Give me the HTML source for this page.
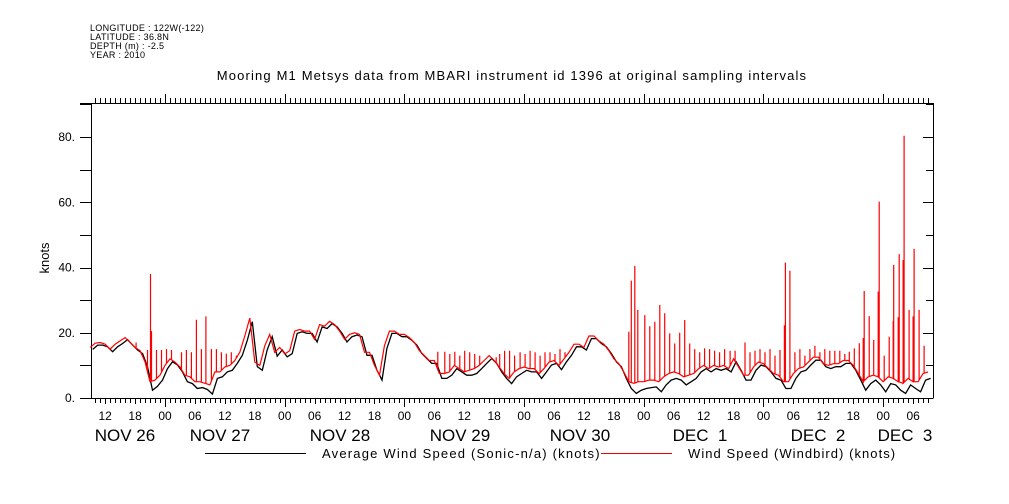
<!DOCTYPE html>
<html><head><meta charset="utf-8"><style>
html,body{margin:0;padding:0;background:#fff;}
svg{display:block;font-family:"Liberation Sans",sans-serif;}
</style></head><body>
<svg id="chart" width="1009" height="504" viewBox="0 0 1009 504" xmlns="http://www.w3.org/2000/svg">
<g font-size="9" fill="#000" letter-spacing="0.3">
<text x="90" y="31">LONGITUDE : 122W(-122)</text>
<text x="90" y="40">LATITUDE : 36.8N</text>
<text x="90" y="49">DEPTH (m) : -2.5</text>
<text x="90" y="58">YEAR : 2010</text>
</g>
<text x="512" y="80" font-size="13" letter-spacing="1.15" text-anchor="middle">Mooring M1 Metsys data from MBARI instrument id 1396 at original sampling intervals</text>
<text x="0" y="0" font-size="13" text-anchor="middle" transform="translate(49,258) rotate(-90)">knots</text>
<g id="axes" stroke="#000" stroke-width="1" fill="none"></g>
<g id="ticklabels" fill="#000"></g>
<g id="series" fill="none"></g>
<g>
<line x1="205" y1="453.5" x2="306" y2="453.5" stroke="#000" stroke-width="1"/>
<text x="322" y="458" font-size="13" letter-spacing="1.2">Average Wind Speed (Sonic-n/a) (knots)</text>
<line x1="601" y1="453.5" x2="672" y2="453.5" stroke="#e00" stroke-width="1"/>
<text x="688" y="458" font-size="13" letter-spacing="1.05">Wind Speed (Windbird) (knots)</text>
</g>
</svg>
<script>
// hours since Nov 26 00:00, starting at hour 9
const startHour = 9;
const avgSpeed = [
14.9,16.2,16.2,15.7,14.2,15.7,16.7,17.9,16.2,14.7,13.6,
9.6,2.4,3.6,5.5,9.0,11.1,10.1,8.0,5.0,4.4,
2.9,3.2,2.6,1.2,6.0,6.5,8.0,8.5,10.6,13.1,
17.7,23.4,9.6,8.5,14.7,18.8,12.8,14.7,12.6,13.6,
19.8,20.3,19.8,19.8,17.2,21.8,21.3,22.8,21.8,19.8,
17.2,18.8,19.3,18.8,13.1,13.1,8.5,5.5,15.2,19.8,
19.8,18.8,18.8,17.7,16.2,13.6,12.1,10.6,10.6,6.0,
6.0,7.0,9.0,8.0,7.0,7.0,7.5,9.0,10.6,12.1,
10.6,8.0,6.0,4.4,6.5,7.5,8.5,8.0,8.0,6.0,
8.0,10.1,10.6,8.7,11.1,13.1,15.7,15.7,14.7,18.2,
18.2,16.7,15.7,13.6,11.1,9.6,6.0,2.9,1.4,2.4,
2.9,3.2,3.4,1.9,4.0,5.5,6.0,5.5,4.0,5.0,
6.0,8.0,9.0,8.0,9.0,8.5,9.0,8.0,11.1,8.5,
5.5,5.5,8.5,10.1,9.6,8.0,6.0,5.5,2.9,2.9,
6.0,8.0,8.5,10.1,11.6,11.6,9.6,9.0,9.6,9.6,
10.6,10.6,8.5,5.5,2.4,4.4,5.5,4.0,1.9,4.4,
4.0,2.4,1.4,4.0,2.9,1.9,5.5,6.0
];
const windbirdBase = [
15.5,16.8,17,16.5,15,16.5,17.5,18.5,17,15.5,14.5,
11,5,5.5,7,10,12,11,9.5,7,6.5,
5,5,4.5,4,8,8,9.5,10,11.5,14,
19,24.5,11,10,16,19.5,14,15.5,13.5,14.5,
20.5,21,20.5,20.5,18,22.5,22,23.5,22.5,20.5,
18,19.5,20,19.5,14,14,10,7,16,20.5,
20.5,19.5,19.5,18.5,17,14.5,13,11.5,11.5,7.5,
7.5,8,10,9,8,8.5,9,10,11.5,13,
11.5,9.5,7.5,6,8,9,9.5,9,9,7.5,
9,11,11.5,10,12,14,16.5,16.5,15.5,19,
19,17.5,16.5,14.5,12,10.5,8,5,4.5,5,
5,5.5,5.5,5,6.5,7.5,8,7.5,6.5,7,
7.5,9,10,9,10,9.5,10,9,12,9.5,
7,7,9.5,11,10.5,9,7.5,7,5,5,
7.5,9,9.5,11,12.5,12.5,10.5,10,10.5,10.5,
11.5,11.5,10,7.5,5,6.5,7,6.5,5,6.5,
6,5,4.5,6,5,5,7.5,8
];
const spikeHours = [18.2,20.5,21.1,21.3,22.3,23.3,24.3,25.3,27.3,28.3,29.3,30.3,31.3,32.2,33.3,34.3,35.3,36.3,37.3,38.3,
78.7,80.1,81.1,82.1,83.1,84.1,85.1,86.1,87.1,90.4,91.1,92.1,93.1,94.1,95.2,96.2,97.2,98.2,99.2,100.2,101.2,102.2,103.2,104.2,
117.0,117.5,118.2,118.8,120.2,121.2,122.2,123.2,124.2,125.2,126.2,127.2,128.2,129.2,130.2,131.2,132.2,133.2,134.2,135.2,136.2,
137.3,138.3,140.3,141.3,142.3,143.3,144.3,145.3,146.3,147.3,148.2,148.4,149.3,150.3,151.3,152.3,153.3,154.3,155.3,156.3,157.3,158.3,159.3,160.3,161.2,162.2,
163.2,164.0,164.2,165.2,166.1,167.0,167.2,168.2,169.2,170.0,170.1,171.0,171.2,172.0,172.2,173.2,174.0,174.2,175.2,176.2];
const spikeValues = [17,14.7,38,20.5,14.7,14.7,15,14.7,14,14.7,14,24,15,25,15,15,14,13.6,14,13,
14.2,14.2,13.5,14.2,13,14.5,14,13.5,13,12.5,13.5,14.5,14.5,13,14,13.5,14.5,14,13,14,14,13.5,15,14,
20.3,36,40.5,27,25.4,22,23.4,28.5,26,19.8,16.7,20,23.9,16.7,15,14,15.2,15,14.5,14,15,
14.5,14.5,17,14,14.5,15,14,15,13,14.7,22.3,41.5,39,14,15,13,15,16,14,15,14.5,14.5,14.5,13.5,14.2,15.2,
16.8,18.4,32.8,25.1,17.8,32.6,60.2,13,18.8,23.5,40.8,24.8,44.1,42.3,80.4,27,25,45.7,27,16];
const yTicks = [0,20,40,60,80];
const yTickLabels = ["0.","20.","40.","60.","80."];
const hourLabels = ["12","18","00","06","12","18","00","06","12","18","00","06","12","18","00","06","12","18","00","06","12","18","00","06","12","18","00","06"];
const dayLabels = ["NOV 26","NOV 27","NOV 28","NOV 29","NOV 30","DEC  1","DEC  2","DEC  3"];
const dayLabelX = [125,220,340,460,580,700,818,905];

const NS="http://www.w3.org/2000/svg";
const X0=45.3, PXH=4.9875;
const Y0=398, PXK=3.2625;
const L=91,R=933,T=103,B=398;
function xs(h){return X0+h*PXH;}
function ys(v){return Y0-v*PXK;}
function mk(tag,attrs,parent){const e=document.createElementNS(NS,tag);for(const k in attrs)e.setAttribute(k,attrs[k]);parent.appendChild(e);return e;}
const ax=document.getElementById('axes'), tl=document.getElementById('ticklabels'), se=document.getElementById('series');

let d=`M80 ${B+.5}H${R+.5}M${L+.5} ${T}V${B}M80 ${T+.5}H${R+.5}M${R+.5} ${T}V${B}`;
for(let h=Math.ceil((L-X0)/PXH);xs(h)<=R;h++){
  const x=Math.round(xs(h))+.5;
  const big=h%24===0, mid=h%6===0;
  d+=`M${x} ${B}v${big?9:(mid?6:5)}`;
  d+=`M${x} ${T}v${big?-9:-5}`;
}
for(let v=0;v<=90;v+=10){const y=Math.round(ys(v))+.5;d+=`M80 ${y}H${L}M${R} ${y}h-${v%20===0?10:7}`;}
const axp=mk('path',{d:d},ax);



yTicks.forEach((v,i)=>{const t=mk('text',{x:75,y:ys(v)+4,'font-size':12,'text-anchor':'end'},tl);t.textContent=yTickLabels[i];

});
hourLabels.forEach((s,i)=>{const h=12+i*6;const t=mk('text',{x:xs(h),y:420,'font-size':12,'text-anchor':'middle'},tl);t.textContent=s;

});
dayLabels.forEach((s,i)=>{const t=mk('text',{x:dayLabelX[i],y:441,'font-size':17,'text-anchor':'middle'},tl);t.textContent=s;t.style.whiteSpace='pre';

});

function baseAt(h){const i=h-startHour;const i0=Math.max(0,Math.min(windbirdBase.length-1,Math.floor(i)));const i1=Math.min(windbirdBase.length-1,i0+1);const f=Math.max(0,Math.min(1,i-i0));return windbirdBase[i0]*(1-f)+windbirdBase[i1]*f;}
let pts=[];
windbirdBase.forEach((v,i)=>pts.push([startHour+i,v,null]));
spikeHours.forEach((h,j)=>pts.push([h,baseAt(h),spikeValues[j]]));
pts.sort((a,b)=>a[0]-b[0]);
let rd='';
pts.forEach((p,k)=>{const x=xs(p[0]).toFixed(1),y=ys(p[1]).toFixed(1);rd+=(k?'L':'M')+x+' '+y;if(p[2]!==null)rd+=`L${x} ${ys(p[2]).toFixed(1)}L${x} ${y}`;});
let bd='';
avgSpeed.forEach((v,i)=>{bd+=(i?'L':'M')+xs(startHour+i+0.5).toFixed(1)+' '+ys(v).toFixed(1);});
const bp=mk('path',{d:bd,stroke:'#000','stroke-width':1.3},se);


const rp=mk('path',{d:rd,stroke:'#f00','stroke-width':1.2},se);


</script>
</body></html>
